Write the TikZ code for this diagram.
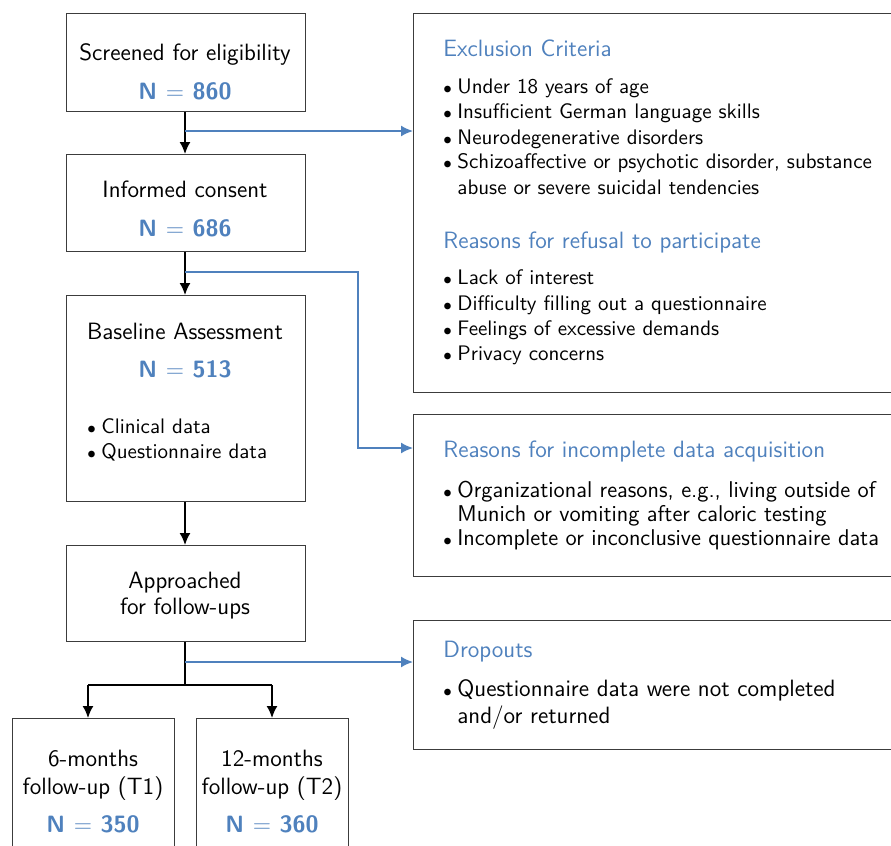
\documentclass[tikz,border=0pt]{standalone}
\usetikzlibrary{arrows.meta}
\definecolor{accent}{RGB}{79,129,189}
\definecolor{frame}{RGB}{60,60,60}
\newcommand{\dotmark}{{\fontsize{8.5}{9}\selectfont$\bullet$}}
\begin{document}
\begin{tikzpicture}[x=0.5pt,y=-0.5pt,
  font=\sffamily\fontsize{11.8}{12.5}\selectfont,
  box/.style={draw=frame,line width=0.6pt,rectangle,inner sep=0pt,anchor=north west},
  txt/.style={inner sep=0pt,anchor=base},
  lft/.style={inner sep=0pt,anchor=base west},
  small/.style={lft,font=\sffamily\fontsize{10.5}{12.5}\selectfont},
  mid/.style={lft,font=\sffamily\fontsize{11.4}{12.5}\selectfont},
  head/.style={lft,text=accent},
  num/.style={txt,text=accent,font=\sffamily\bfseries\fontsize{11.8}{12.5}\selectfont},
  flow/.style={line width=0.8pt,-{Latex[length=6pt,width=5.5pt]}},
  side/.style={draw=accent,line width=0.8pt,-{Latex[length=6pt,width=5.5pt]}},
  link/.style={line width=0.8pt}]
\useasboundingbox (0,0) rectangle (891,846);
\clip (0,0) rectangle (891,846);

% main column
\node[box,minimum width=119.5pt,minimum height=49pt] (b1) at (66,13) {};
\node[box,minimum width=119.5pt,minimum height=48.5pt] (b2) at (66,154) {};
\node[box,minimum width=119.5pt,minimum height=103pt] (b3) at (66,295) {};
\node[box,minimum width=119.5pt,minimum height=48pt] (b4) at (66,545) {};
\node[box,minimum width=81pt,minimum height=75pt] (b5) at (12,718) {};
\node[box,minimum width=76pt,minimum height=75pt] (b6) at (196,718) {};

% side boxes
\node[box,minimum width=245pt,minimum height=189.5pt] (sa) at (413,13) {};
\node[box,minimum width=245pt,minimum height=81pt] (sb) at (413,414) {};
\node[box,minimum width=245pt,minimum height=64.5pt] (sc) at (413,620) {};

% main column texts
\node[txt] (t1) at (185,61) {Screened for eligibility};
\node[num] (n1) at (185,99) {N $=$ 860};
\node[txt] (t2) at (185,198) {Informed consent};
\node[num] (n2) at (185,236) {N $=$ 686};
\node[txt] (t3) at (185,339) {Baseline Assessment};
\node[num] (n3) at (185,377) {N $=$ 513};
\node[lft] (p31) at (87,433) {\dotmark};
\node[small] (q31) at (101,433) {Clinical data};
\node[lft] (p32) at (87,458) {\dotmark};
\node[small] (q32) at (101,458) {Questionnaire data};
\node[txt] (t4a) at (185,588) {Approached};
\node[txt] (t4b) at (185,614) {for follow-ups};
\node[txt] (t5a) at (93,766) {6-months};
\node[txt] (t5b) at (93,794) {follow-up (T1)};
\node[num] (n5) at (93,832) {N $=$ 350};
\node[txt] (t6a) at (272,766) {12-months};
\node[txt] (t6b) at (272,794) {follow-up (T2)};
\node[num] (n6) at (272,832) {N $=$ 360};

% exclusion criteria and refusal reasons
\node[head] (ha) at (443,56) {Exclusion Criteria};
\node[lft] (pa1) at (443,93) {\dotmark};
\node[small] (qa1) at (457,93) {Under 18 years of age};
\node[lft] (pa2) at (443,119) {\dotmark};
\node[small] (qa2) at (457,119) {Insufficient German language skills};
\node[lft] (pa3) at (443,144) {\dotmark};
\node[small] (qa3) at (457,144) {Neurodegenerative disorders};
\node[lft] (pa4) at (443,169) {\dotmark};
\node[small] (qa4) at (457,169) {Schizoaffective or psychotic disorder, substance};
\node[small] (qa5) at (457,194) {abuse or severe suicidal tendencies};
\node[head] (hr) at (443,248) {Reasons for refusal to participate};
\node[lft] (pr1) at (443,285) {\dotmark};
\node[small] (qr1) at (457,285) {Lack of interest};
\node[lft] (pr2) at (443,310) {\dotmark};
\node[small] (qr2) at (457,310) {Difficulty filling out a questionnaire};
\node[lft] (pr3) at (443,335) {\dotmark};
\node[small] (qr3) at (457,335) {Feelings of excessive demands};
\node[lft] (pr4) at (443,360) {\dotmark};
\node[small] (qr4) at (457,360) {Privacy concerns};

% incomplete data
\node[head] (hb) at (443,457) {Reasons for incomplete data acquisition};
\node[lft] (pb1) at (443,497) {\dotmark};
\node[mid] (qb1) at (457,497) {Organizational reasons, e.g., living outside of};
\node[mid] (qb2) at (457,521) {Munich or vomiting after caloric testing};
\node[lft] (pb3) at (443,545) {\dotmark};
\node[mid] (qb3) at (457,545) {Incomplete or inconclusive questionnaire data};

% dropouts
\node[head] (hc) at (443,657) {Dropouts};
\node[lft] (pc1) at (443,696) {\dotmark};
\node[lft] (qc1) at (457,696) {Questionnaire data were not completed};
\node[lft] (qc2) at (457,723) {and/or returned};

% junction points
\coordinate (j1) at (185,131);
\coordinate (j2) at (185,272);
\coordinate (k2) at (358,272);
\coordinate (k3) at (358,448);
\coordinate (j4) at (185,662);
\coordinate (f0) at (185,685);
\coordinate (fl) at (88,685);
\coordinate (fr) at (272,685);

% main flow
\draw[flow] (b1.south -| j1) -- (b2.north -| j1);
\draw[flow] (b2.south -| j2) -- (b3.north -| j2);
\draw[flow] (b3.south -| j2) -- (b4.north -| j2);
\draw[link] (b4.south -| f0) -- (f0);
\draw[link] (fl) -- (fr);
\draw[flow] (fl) -- (b5.north -| fl);
\draw[flow] (fr) -- (b6.north -| fr);

% side flows
\draw[side] (j1) -- (j1 -| sa.west);
\draw[side] (j2) -- (k2) -- (k3) -- (k3 -| sb.west);
\draw[side] (j4) -- (j4 -| sc.west);
\end{tikzpicture}
\end{document}
